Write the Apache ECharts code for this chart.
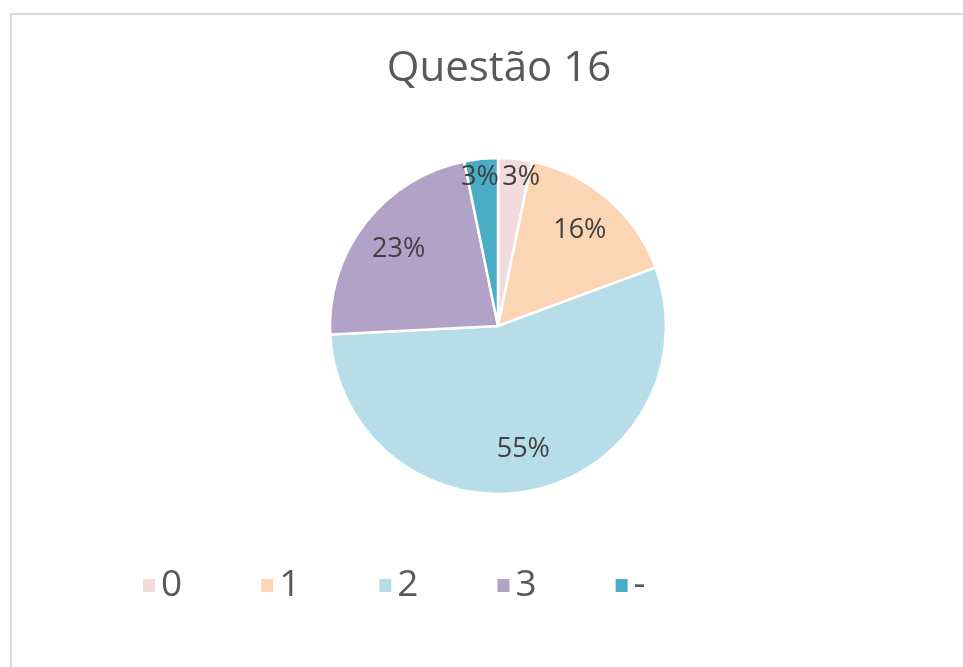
<!DOCTYPE html>
<html>
<head>
<meta charset="UTF-8">
<title>Questão 16</title>
<script src="https://cdn.jsdelivr.net/npm/echarts@6/dist/echarts.min.js"></script>
<style>
  html, body { margin: 0; padding: 0; background: #fff; }
  #frame { position: absolute; left: 10px; top: 13px; width: 960px; height: 660px;
           border-top: 2px solid #d9d9d9; border-left: 2px solid #d9d9d9; }
  #chart { position: absolute; left: 0; top: 0; width: 963px; height: 667px; }
</style>
</head>
<body>
<div id="frame"></div>
<div id="chart"></div>
<script>
// respostas da questão 16
var categories = ['0', '1', '2', '3', '-'];
var counts = [1, 5, 17, 7, 1];
var colors = ['#f2dcdb', '#fcd5b4', '#b7dee8', '#b3a2c7', '#4bacc6'];

var chart = echarts.init(document.getElementById('chart'));

var pieData = [];
for (var i = 0; i < categories.length; i++) {
  pieData.push({ name: categories[i], value: counts[i], itemStyle: { color: colors[i] } });
}
var center = [498, 326];
var R = 168;
var fontFamily = '"Open Sans", "Noto Sans", sans-serif';

function pct(p) { return Math.round(p.percent) + '%'; }

var option = {
  animation: false,
  title: {
    text: 'Questão 16',
    left: 494,
    top: 43,
    textAlign: 'center',
    textStyle: { fontFamily: fontFamily, fontSize: 42, fontWeight: 'normal', color: '#595959' }
  },
  legend: {
    data: categories,
    left: 136,
    top: 562,
    itemWidth: 14,
    itemHeight: 15,
    itemGap: 77,
    icon: 'rect',
    textStyle: { fontFamily: fontFamily, fontSize: 37, color: '#595959', width: 22 }
  },
  series: [
    {
      name: 'Questão 16',
      type: 'pie',
      center: center,
      radius: [0, R],
      startAngle: 90,
      clockwise: true,
      label: { show: false },
      labelLine: { show: false },
      itemStyle: { borderColor: '#fff', borderWidth: 2.5 },
      data: pieData
    },
    {
      // rótulos das fatias grandes
      type: 'pie',
      center: center,
      radius: [R * 0.46, R],
      silent: true,
      avoidLabelOverlap: false,
      itemStyle: { color: 'transparent' },
      label: {
        position: 'inside',
        fontFamily: fontFamily, fontSize: 27, color: '#404040',
        formatter: function (p) { return p.percent >= 5 ? pct(p) : ''; }
      },
      labelLine: { show: false },
      labelLayout: { hideOverlap: false },
      data: pieData.map(function (d) { return { name: d.name, value: d.value }; })
    },
    {
      // rótulos das fatias pequenas, afastados um pouco do eixo vertical
      type: 'pie',
      center: center,
      radius: [R * 0.74, R],
      silent: true,
      avoidLabelOverlap: false,
      itemStyle: { color: 'transparent' },
      label: {
        position: 'inside',
        fontFamily: fontFamily, fontSize: 27, color: '#404040',
        formatter: function (p) { return p.percent < 5 ? pct(p) : ''; }
      },
      labelLine: { show: false },
      labelLayout: function (params) {
        var cx = params.labelRect.x + params.labelRect.width / 2;
        return { hideOverlap: false, dx: cx > center[0] ? 8 : -3 };
      },
      data: pieData.map(function (d) { return { name: d.name, value: d.value }; })
    }
  ]
};
chart.setOption(option);
</script>
</body>
</html>
